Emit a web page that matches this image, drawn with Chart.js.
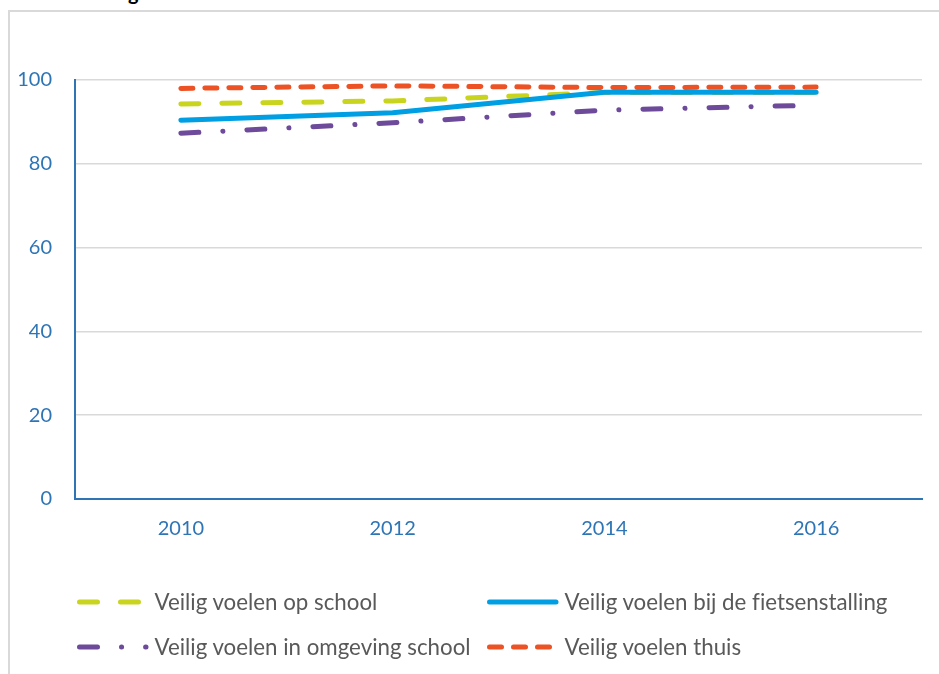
<!DOCTYPE html>
<html>
<head>
<meta charset="utf-8">
<script src="https://cdn.jsdelivr.net/npm/chart.js@4/dist/chart.umd.min.js"></script>
<style>
  body { margin: 0; background: #fff; font-family: Lato, sans-serif; }
  #wrap { position: relative; width: 939px; height: 674px; overflow: hidden; }
  #frame { position: absolute; left: 8px; top: 10px; width: 960px; height: 700px;
           border-left: 2px solid #d9d9d9; border-top: 2px solid #d9d9d9; }
  #title { position: absolute; left: 90px; top: -18px; font-size: 20px; line-height: 20px;
           font-weight: bold; color: #000; white-space: nowrap; }
  #chart_area { position: absolute; left: 0; top: 0; }
  .lg-sample { position: absolute; }
  .lg-text { position: absolute; font-size: 22.3px; line-height: 22px; color: #595959;
             white-space: nowrap; font-variant-ligatures: none; }
</style>
</head>
<body>
<div id="wrap">
  <div id="frame"></div>
  <div id="title">Veiligheid</div>
  <canvas id="chart_area" width="939" height="674"></canvas>
  <div id="legend"></div>
</div>
<script>
// data
const years = ['2010', '2012', '2014', '2016'];
const opSchool = [94.3, 95.0, 97.0, 97.0];
const fietsenstalling = [90.4, 92.2, 97.1, 97.1];
const omgevingSchool = [87.3, 89.8, 92.8, 94.0];
const thuis = [98.0, 98.6, 98.2, 98.3];
const yTicks = [0, 20, 40, 60, 80, 100];
const seriesNames = [
  'Veilig voelen op school',
  'Veilig voelen bij de fietsenstalling',
  'Veilig voelen in omgeving school',
  'Veilig voelen thuis'
];
const seriesValues = [opSchool, fietsenstalling, omgevingSchool, thuis];

// line styles (colour, dash, stacking)
const lineStyles = [
  { color: '#C9D41F', dash: [18, 23], order: 3 },
  { color: '#009FE3', dash: [], order: 0 },
  { color: '#6D4A9A', dash: [18, 24, 0.1, 24], order: 2 },
  { color: '#EC5224', dash: [12, 12], order: 1 }
];

const tickBlue = '#2E75B6';
const tickFont = { family: 'Lato', size: 20 };

const ctx = document.getElementById('chart_area').getContext('2d');
const myChart = new Chart(ctx, {
  type: 'line',
  data: {
    labels: years,
    datasets: seriesNames.map((name, i) => ({
      label: name,
      data: seriesValues[i],
      borderColor: lineStyles[i].color,
      backgroundColor: lineStyles[i].color,
      borderDash: lineStyles[i].dash,
      order: lineStyles[i].order,
      borderWidth: 5,
      borderCapStyle: 'round',
      borderJoinStyle: 'round',
      pointRadius: 0,
      tension: 0,
      fill: false
    }))
  },
  options: {
    responsive: false,
    animation: false,
    layout: { padding: { left: 10, top: 80, right: 17, bottom: 130 } },
    plugins: {
      legend: { display: false },
      tooltip: { enabled: false }
    },
    scales: {
      x: {
        offset: true,
        grid: { display: false, drawTicks: false },
        border: { color: tickBlue, width: 2 },
        ticks: { color: tickBlue, font: tickFont, padding: 18 },
        afterFit: s => { s.height = 45; }
      },
      y: {
        min: 0,
        max: 100,
        afterBuildTicks: s => { s.ticks = yTicks.map(v => ({ value: v })); },
        grid: {
          drawTicks: false,
          lineWidth: 1.5,
          color: c => c.tick && c.tick.value === 0 ? 'rgba(0,0,0,0)' : '#d9d9d9'
        },
        border: { color: tickBlue, width: 2 },
        ticks: { color: tickBlue, font: tickFont, padding: 23 },
        afterFit: s => { s.width = 65; }
      }
    }
  }
});

// legend in a 2 x 2 grid, like the original
const legend = document.getElementById('legend');
const legendCols = [77, 487];
const legendRows = [602, 647];
seriesNames.forEach((name, i) => {
  const left = legendCols[i % 2];
  const mid = legendRows[Math.floor(i / 2)];
  const st = lineStyles[i];
  const svgNS = 'http://www.w3.org/2000/svg';
  const svg = document.createElementNS(svgNS, 'svg');
  svg.setAttribute('class', 'lg-sample');
  svg.setAttribute('width', '72');
  svg.setAttribute('height', '10');
  svg.style.left = left + 'px';
  svg.style.top = (mid - 5) + 'px';
  const ln = document.createElementNS(svgNS, 'line');
  ln.setAttribute('x1', '2.5'); ln.setAttribute('x2', '69');
  ln.setAttribute('y1', '5'); ln.setAttribute('y2', '5');
  ln.setAttribute('stroke', st.color);
  ln.setAttribute('stroke-width', '5');
  ln.setAttribute('stroke-linecap', 'round');
  if (st.dash.length) ln.setAttribute('stroke-dasharray', st.dash.join(' '));
  svg.appendChild(ln);
  legend.appendChild(svg);

  const txt = document.createElement('div');
  txt.className = 'lg-text';
  txt.textContent = name;
  txt.style.left = (left + 77.5) + 'px';
  txt.style.top = (mid - 11.5) + 'px';
  legend.appendChild(txt);
});
</script>
</body>
</html>
